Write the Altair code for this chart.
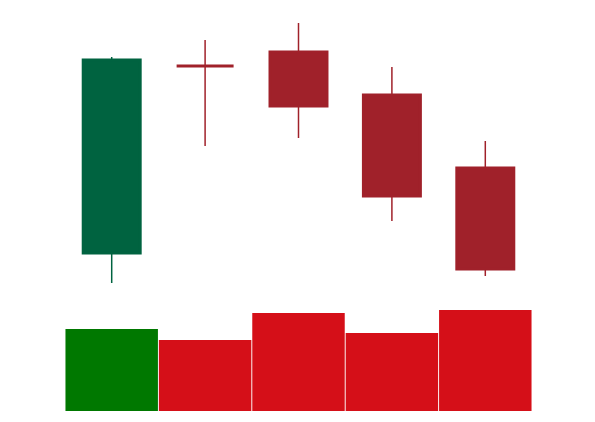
import altair as alt
import pandas as pd

days = ["D1", "D2", "D3", "D4", "D5"]
open_ = [103.7, 122.4, 123.8, 119.5, 112.2]
close = [123.0, 122.4, 118.4, 109.4, 102.1]
high = [123.3, 125.0, 126.7, 122.3, 114.9]
low = [100.7, 114.4, 115.2, 106.9, 101.4]
volume = [820, 710, 980, 780, 1010]

df = pd.DataFrame({"day": days, "open": open_, "close": close,
                   "high": high, "low": low, "volume": volume})
df["dir"] = ["up" if c > o else "down" for o, c in zip(open_, close)]

x = alt.X("day:N", sort=days, axis=None,
          scale=alt.Scale(paddingInner=0, paddingOuter=0))
price_scale = alt.Scale(domain=[100, 127], range=[270, 0], zero=False, nice=False)
cscale = alt.Scale(domain=["up", "down"], range=["#006340", "#a0212a"])

base = alt.Chart(df)

wick = base.mark_rule(strokeWidth=1.5).encode(
    x=x,
    y=alt.Y("low:Q", scale=price_scale, axis=None),
    y2="high:Q",
    color=alt.Color("dir:N", scale=cscale, legend=None),
)

body = base.mark_bar(strokeWidth=3, width=alt.RelativeBandSize(0.61)).encode(
    x=x,
    y=alt.Y("open:Q", scale=price_scale, axis=None),
    y2="close:Q",
    color=alt.Color("dir:N", scale=cscale, legend=None),
    stroke=alt.Stroke("dir:N", scale=cscale, legend=None),
)

vol = base.mark_bar(width=alt.RelativeBandSize(0.99)).encode(
    x=x,
    y=alt.Y("volume:Q", axis=None,
            scale=alt.Scale(domain=[0, 3910], range=[391, 0], nice=False)),
    color=alt.Color("dir:N", scale=alt.Scale(domain=["up", "down"], range=["#007800", "#d50f18"]), legend=None),
)

candles = alt.layer(wick, body)

chart = alt.layer(candles, vol).resolve_scale(
    y="independent", color="independent"
).properties(
    width=467, height=391,
    padding={"left": 65, "top": 20, "right": 63, "bottom": 11},
    autosize=alt.AutoSizeParams(type="none"),
    background="white",
).configure_view(stroke=None)

chart.save("out.html", embed_options={"renderer": "svg", "actions": False})
